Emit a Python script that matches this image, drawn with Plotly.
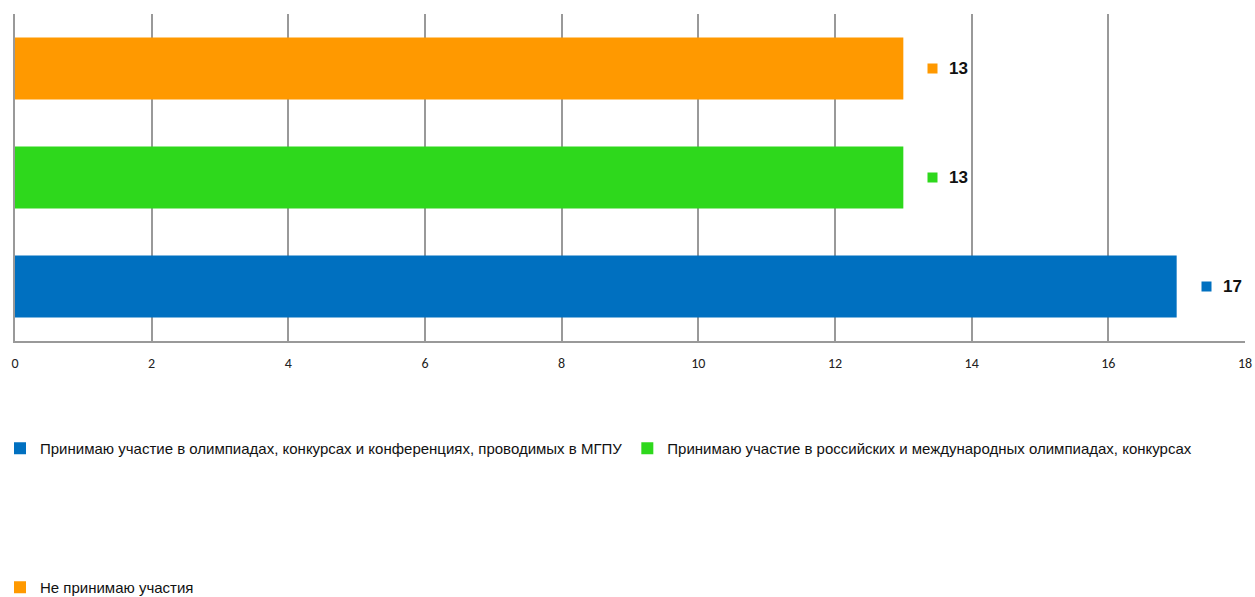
import plotly.graph_objects as go

categories = [
    "Принимаю участие в олимпиадах, конкурсах и конференциях, проводимых в МГПУ",
    "Принимаю участие в российских и международных олимпиадах, конкурсах",
    "Не принимаю участия",
]
values = [17, 13, 13]
colors = ["#0070C0", "#2ED81C", "#FF9900"]
x_ticks = [0, 2, 4, 6, 8, 10, 12, 14, 16, 18]

W, H = 1255, 597

fig = go.Figure()
for i, (cat, val, col) in enumerate(zip(categories, values, colors)):
    fig.add_trace(go.Bar(
        y=[cat], x=[val], orientation="h", name=cat,
        marker=dict(color=col, line=dict(width=0)),
        width=0.57,
        legend="legend" if i < 2 else "legend2",
        hoverinfo="skip",
    ))
    fig.add_annotation(x=val, y=cat, xref="x", yref="y", text=" ",
                       showarrow=False, width=9, height=9, bgcolor=col,
                       xanchor="left", xshift=24, borderpad=0)
    fig.add_annotation(x=val, y=cat, xref="x", yref="y", text=f"<b>{val}</b>",
                       showarrow=False, xanchor="left", xshift=44,
                       font=dict(family="Liberation Sans Narrow, Arial Narrow, sans-serif", size=17, color="#111"))

legend_font = dict(family="Liberation Sans Narrow, Arial Narrow, sans-serif", size=15, color="#111")

fig.update_layout(
    width=W, height=H,
    margin=dict(l=15, r=10, t=14, b=256),
    paper_bgcolor="white", plot_bgcolor="white",
    barmode="overlay",
    showlegend=True,
    xaxis=dict(range=[0, 18], tickvals=x_ticks, ticktext=[str(t) for t in x_ticks],
               showgrid=True, gridcolor="#999999", gridwidth=1.5,
               showline=True, linecolor="#999999", linewidth=1.5,
               zeroline=False, ticks="", ticklen=0, ticklabelstandoff=8,
               ticklabeloverflow="allow",
               tickfont=dict(family="Carlito, Calibri, Liberation Sans, sans-serif", size=14, color="#222"),
               automargin=False),
    yaxis=dict(categoryorder="array", categoryarray=categories,
               showticklabels=False, showgrid=False,
               showline=True, linecolor="#999999", linewidth=1.5,
               ticks="", automargin=False),
    legend=dict(orientation="h", xref="container", yref="container",
                x=0, y=1 - 432 / H, xanchor="left", yanchor="top",
                font=legend_font, bgcolor="rgba(0,0,0,0)"),
    legend2=dict(orientation="h", xref="container", yref="container",
                 x=0, y=1 - 571 / H, xanchor="left", yanchor="top",
                 font=legend_font, bgcolor="rgba(0,0,0,0)"),
)

fig.write_html("out.html",
               config={"displayModeBar": False},
               post_script="document.body.style.margin='0';document.body.style.overflow='hidden';")
